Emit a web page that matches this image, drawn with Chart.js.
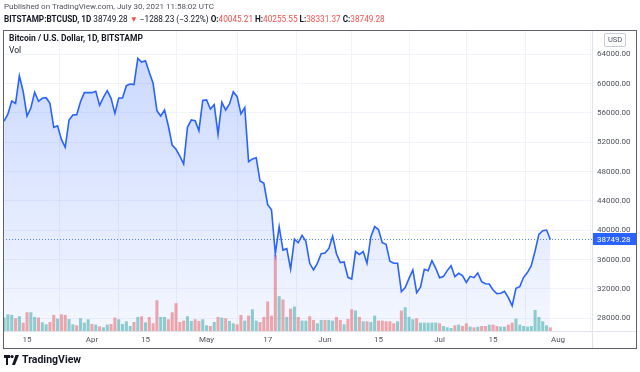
<!DOCTYPE html>
<html>
<head>
<meta charset="utf-8">
<script src="https://cdn.jsdelivr.net/npm/chart.js@4.4.1/dist/chart.umd.min.js"></script>
<style>
  body { margin: 0; background: #fff; }
  #wrap { position: relative; width: 640px; height: 372px; overflow: hidden; font-family: Roboto, 'Liberation Sans', sans-serif; color: #131722; }
  #chart { position: absolute; left: 0; top: 0; }
  .t { position: absolute; white-space: nowrap; line-height: 1; }
  .red { color: #ef5350; }
  b { font-weight: 700; }
</style>
</head>
<body>
<div id="wrap">
  <canvas id="chart" width="640" height="372"></canvas>
  <div class="t" style="left:4px; top:3px; font-size:8px; color:#50535e;">Published on TradingView.com, July 30, 2021 11:58:02 UTC</div>
  <div class="t" style="left:4px; top:15px; font-size:8.2px;"><b>BITSTAMP:BTCUSD, 1D</b> 38749.28 <span class="red">▼</span> −1288.23 (−3.22%) <b>O:</b><span class="red">40045.21</span> <b>H:</b><span class="red">40255.55</span> <b>L:</b><span class="red">38331.37</span> <b>C:</b><span class="red">38749.28</span></div>
  <div class="t" style="left:9px; top:34px; font-size:8.5px;"><b>Bitcoin / U.S. Dollar, 1D, BITSTAMP</b></div>
  <div class="t" style="left:9px; top:46px; font-size:8.5px;">Vol</div>
  <div class="t" style="left:604px; top:33px; font-size:7.5px; color:#50535e; border:1px solid #c9ccd6; border-radius:2px; padding:2px 3px;">USD</div>
  <div class="t" style="left:4px; top:355px;">
    <svg width="15" height="10" viewBox="0 0 15 10" style="vertical-align:top">
      <path d="M0 0h6v3H4v7H2V3H0z" fill="#131722"/>
      <circle cx="8" cy="1.6" r="1.6" fill="#131722"/>
      <path d="M11.5 0h3.5l-4 10H8z" fill="#131722"/>
    </svg>
  </div>
  <div class="t" style="left:22px; top:355px; font-size:10.5px; font-weight:700;">TradingView</div>
</div>
<script>
// daily closes, BITSTAMP:BTCUSD, Mar 9 - Jul 30 2021
const closesMar = [54900, 55860, 57630, 57300, 61080, 58900, 55590, 56680, 58820, 57590, 58000, 58080, 57320,
  54050, 54260, 52400, 51320, 55040, 55720, 55770, 57540, 58770, 58770];
const closesApr = [58770, 58950, 57040, 58130, 59040, 58000, 55950, 58040, 58040, 59720, 59950, 59860, 63450, 62950,
  63130, 61550, 60050, 56310, 55590, 56400, 54220, 51630, 51040, 50130, 49040, 54050, 55040, 54950, 53590, 57700];
const closesMay = [57770, 56540, 57150, 53110, 57450, 56400, 57220, 58900, 58220, 55860, 56720, 49360, 49730, 49900,
  46720, 46410, 43500, 42800, 36800, 40500, 37300, 37500, 34700, 38800, 38300, 39300, 38500, 35500, 34590, 35500, 36800];
const closesJun = [36900, 37500, 39200, 36800, 35590, 35680, 33590, 33360, 37100, 36700, 37100, 35500, 39100, 40500,
  40100, 38300, 38100, 35770, 35500, 35500, 31630, 32200, 33450, 34590, 31500, 32230, 34680, 34500, 35850, 34820];
const closesJul = [33540, 33680, 34500, 35170, 33680, 34130, 33810, 32900, 33720, 33540, 34180, 33000, 32720, 32680,
  31860, 31360, 31410, 31680, 30810, 29720, 32090, 32320, 33590, 34230, 35170, 37170, 39450, 39950, 40037.51, 38749.28];

// volume (BTC) and candle direction per day
const volMar = [6670, 8330, 8000, 6330, 7330, 4170, 9330, 9330, 7000, 6670, 4330, 3330, 4500, 8000, 6170, 8330,
  8000, 6000, 3330, 2830, 6330, 4170, 5830];
const volApr = [3500, 3170, 2330, 1830, 3170, 3500, 6670, 5830, 3500, 4830, 2500, 4500, 7000, 7330, 4330, 7000,
  3830, 15330, 7000, 7000, 5830, 9330, 13830, 4500, 5170, 7330, 5000, 5830, 5000, 5830];
const volMay = [2830, 2500, 4500, 7000, 6670, 6330, 5000, 3830, 3330, 8000, 5170, 7670, 10830, 5170, 4500, 7000,
  14670, 7670, 37830, 17330, 15670, 7000, 11170, 12170, 7000, 5170, 5170, 7330, 5500, 3830, 5500];
const volJun = [5500, 5500, 5170, 7000, 5500, 3330, 6000, 10830, 10170, 7000, 4830, 4830, 4500, 7670, 5170, 5170,
  4830, 4830, 3830, 4830, 10170, 11830, 7000, 5830, 6330, 4170, 4170, 4170, 4170, 4170];
const volJul = [3830, 2500, 1830, 1500, 2830, 3170, 2500, 3830, 2170, 1830, 2170, 2500, 2500, 3170, 3170, 2500,
  2170, 2170, 3170, 4170, 6170, 3170, 2500, 2170, 2500, 10500, 7000, 4830, 2830, 1830];
const dirMar = 'uuududduuduuddudduuduuu';
const dirApr = 'duduudduuuudududdduuddddduuddu';
const dirMay = 'udududuudduduudddddudududuudduu';
const dirJun = 'duudduddududuuddddduduuuduuuuu';
const dirJul = 'duuududdududdudduudduuuuuuuuud';

// day index 0 = Mar 9
const tickDays = [6, 23, 37, 53, 69, 84, 98, 114, 128, 145];
const tickLabels = ['15', 'Apr', '15', 'May', '17', 'Jun', '15', 'Jul', '15', 'Aug'];
const priceTicks = [28000, 32000, 36000, 40000, 44000, 48000, 52000, 56000, 60000, 64000];

const closes = [...closesMar, ...closesApr, ...closesMay, ...closesJun, ...closesJul];
const volumes = [...volMar, ...volApr, ...volMay, ...volJun, ...volJul];
const dirs = (dirMar + dirApr + dirMay + dirJun + dirJul).split('');
const lastClose = closes[closes.length - 1];

const UP = 'rgba(38,166,154,0.5)';
const DOWN = 'rgba(239,83,80,0.5)';
const BLUE = '#2962ff';

const framePlugin = {
    id: 'frame',
    afterDraw(chart) {
        const { ctx, chartArea: a } = chart;
        const y = Math.round(chart.scales.y.getPixelForValue(lastClose)) + 0.5;
        ctx.save();
        // last price line
        ctx.strokeStyle = 'rgba(41,98,255,0.75)';
        ctx.lineWidth = 1;
        ctx.setLineDash([1, 2]);
        ctx.beginPath();
        ctx.moveTo(a.left, y);
        ctx.lineTo(a.right, y);
        ctx.stroke();
        ctx.setLineDash([]);
        // separators
        ctx.strokeStyle = '#e0e3eb';
        ctx.beginPath();
        ctx.moveTo(a.right + 0.5, 30);
        ctx.lineTo(a.right + 0.5, 348);
        ctx.moveTo(3, a.bottom + 0.5);
        ctx.lineTo(636, a.bottom + 0.5);
        ctx.stroke();
        // outer frame
        ctx.strokeStyle = '#5d606b';
        ctx.strokeRect(3.5, 30.5, 633, 318);
        // last price label
        ctx.fillStyle = BLUE;
        ctx.fillRect(a.right + 1, y - 6.5, 43, 12);
        ctx.fillStyle = '#fff';
        ctx.font = '8px Roboto, sans-serif';
        ctx.textBaseline = 'middle';
        ctx.fillText(lastClose.toFixed(2), a.right + 5, y);
        ctx.restore();
    }
};

new Chart(document.getElementById('chart'), {
    type: 'bar',
    data: {
        datasets: [{
            type: 'line',
            data: closes.map((c, i) => ({ x: i, y: c })),
            yAxisID: 'y',
            borderColor: BLUE,
            borderWidth: 1.6,
            pointRadius: 0,
            tension: 0,
            fill: 'start',
            backgroundColor: ctx => {
                const a = ctx.chart.chartArea;
                if (!a) return 'rgba(41,98,255,0.15)';
                const g = ctx.chart.ctx.createLinearGradient(0, a.top, 0, a.bottom);
                g.addColorStop(0, 'rgba(41,98,255,0.26)');
                g.addColorStop(1, 'rgba(41,98,255,0.05)');
                return g;
            },
            order: 0
        }, {
            data: volumes.map((v, i) => ({ x: i, y: v })),
            yAxisID: 'yv',
            backgroundColor: dirs.map(d => d === 'u' ? UP : DOWN),
            borderWidth: 0,
            barPercentage: 0.8,
            categoryPercentage: 1,
            order: 1
        }]
    },
    options: {
        responsive: false,
        animation: false,
        layout: { padding: { left: 3, top: 31, right: 4, bottom: 24 } },
        plugins: { legend: { display: false }, tooltip: { enabled: false } },
        scales: {
            x: {
                type: 'linear',
                min: -0.29,
                max: 153.9,
                offset: false,
                afterFit: s => { s.height = 17; },
                afterBuildTicks: s => { s.ticks = tickDays.map(v => ({ value: v })); },
                grid: { color: '#f0f3fa', drawTicks: false },
                border: { display: false },
                ticks: {
                    autoSkip: false, maxRotation: 0, padding: 4,
                    color: '#50535e', font: { family: 'Roboto', size: 8 },
                    callback: v => tickLabels[tickDays.indexOf(v)]
                }
            },
            y: {
                position: 'right',
                min: 26268,
                max: 67177,
                afterFit: s => { s.width = 44; },
                afterBuildTicks: s => { s.ticks = priceTicks.map(v => ({ value: v })); },
                grid: { color: '#f0f3fa', drawTicks: false },
                border: { display: false },
                ticks: {
                    padding: 5, color: '#50535e', font: { family: 'Roboto', size: 8 },
                    callback: v => v.toFixed(2)
                }
            },
            yv: {
                display: false,
                min: 0,
                max: 149300
            }
        }
    },
    plugins: [framePlugin]
});
</script>
</body>
</html>
